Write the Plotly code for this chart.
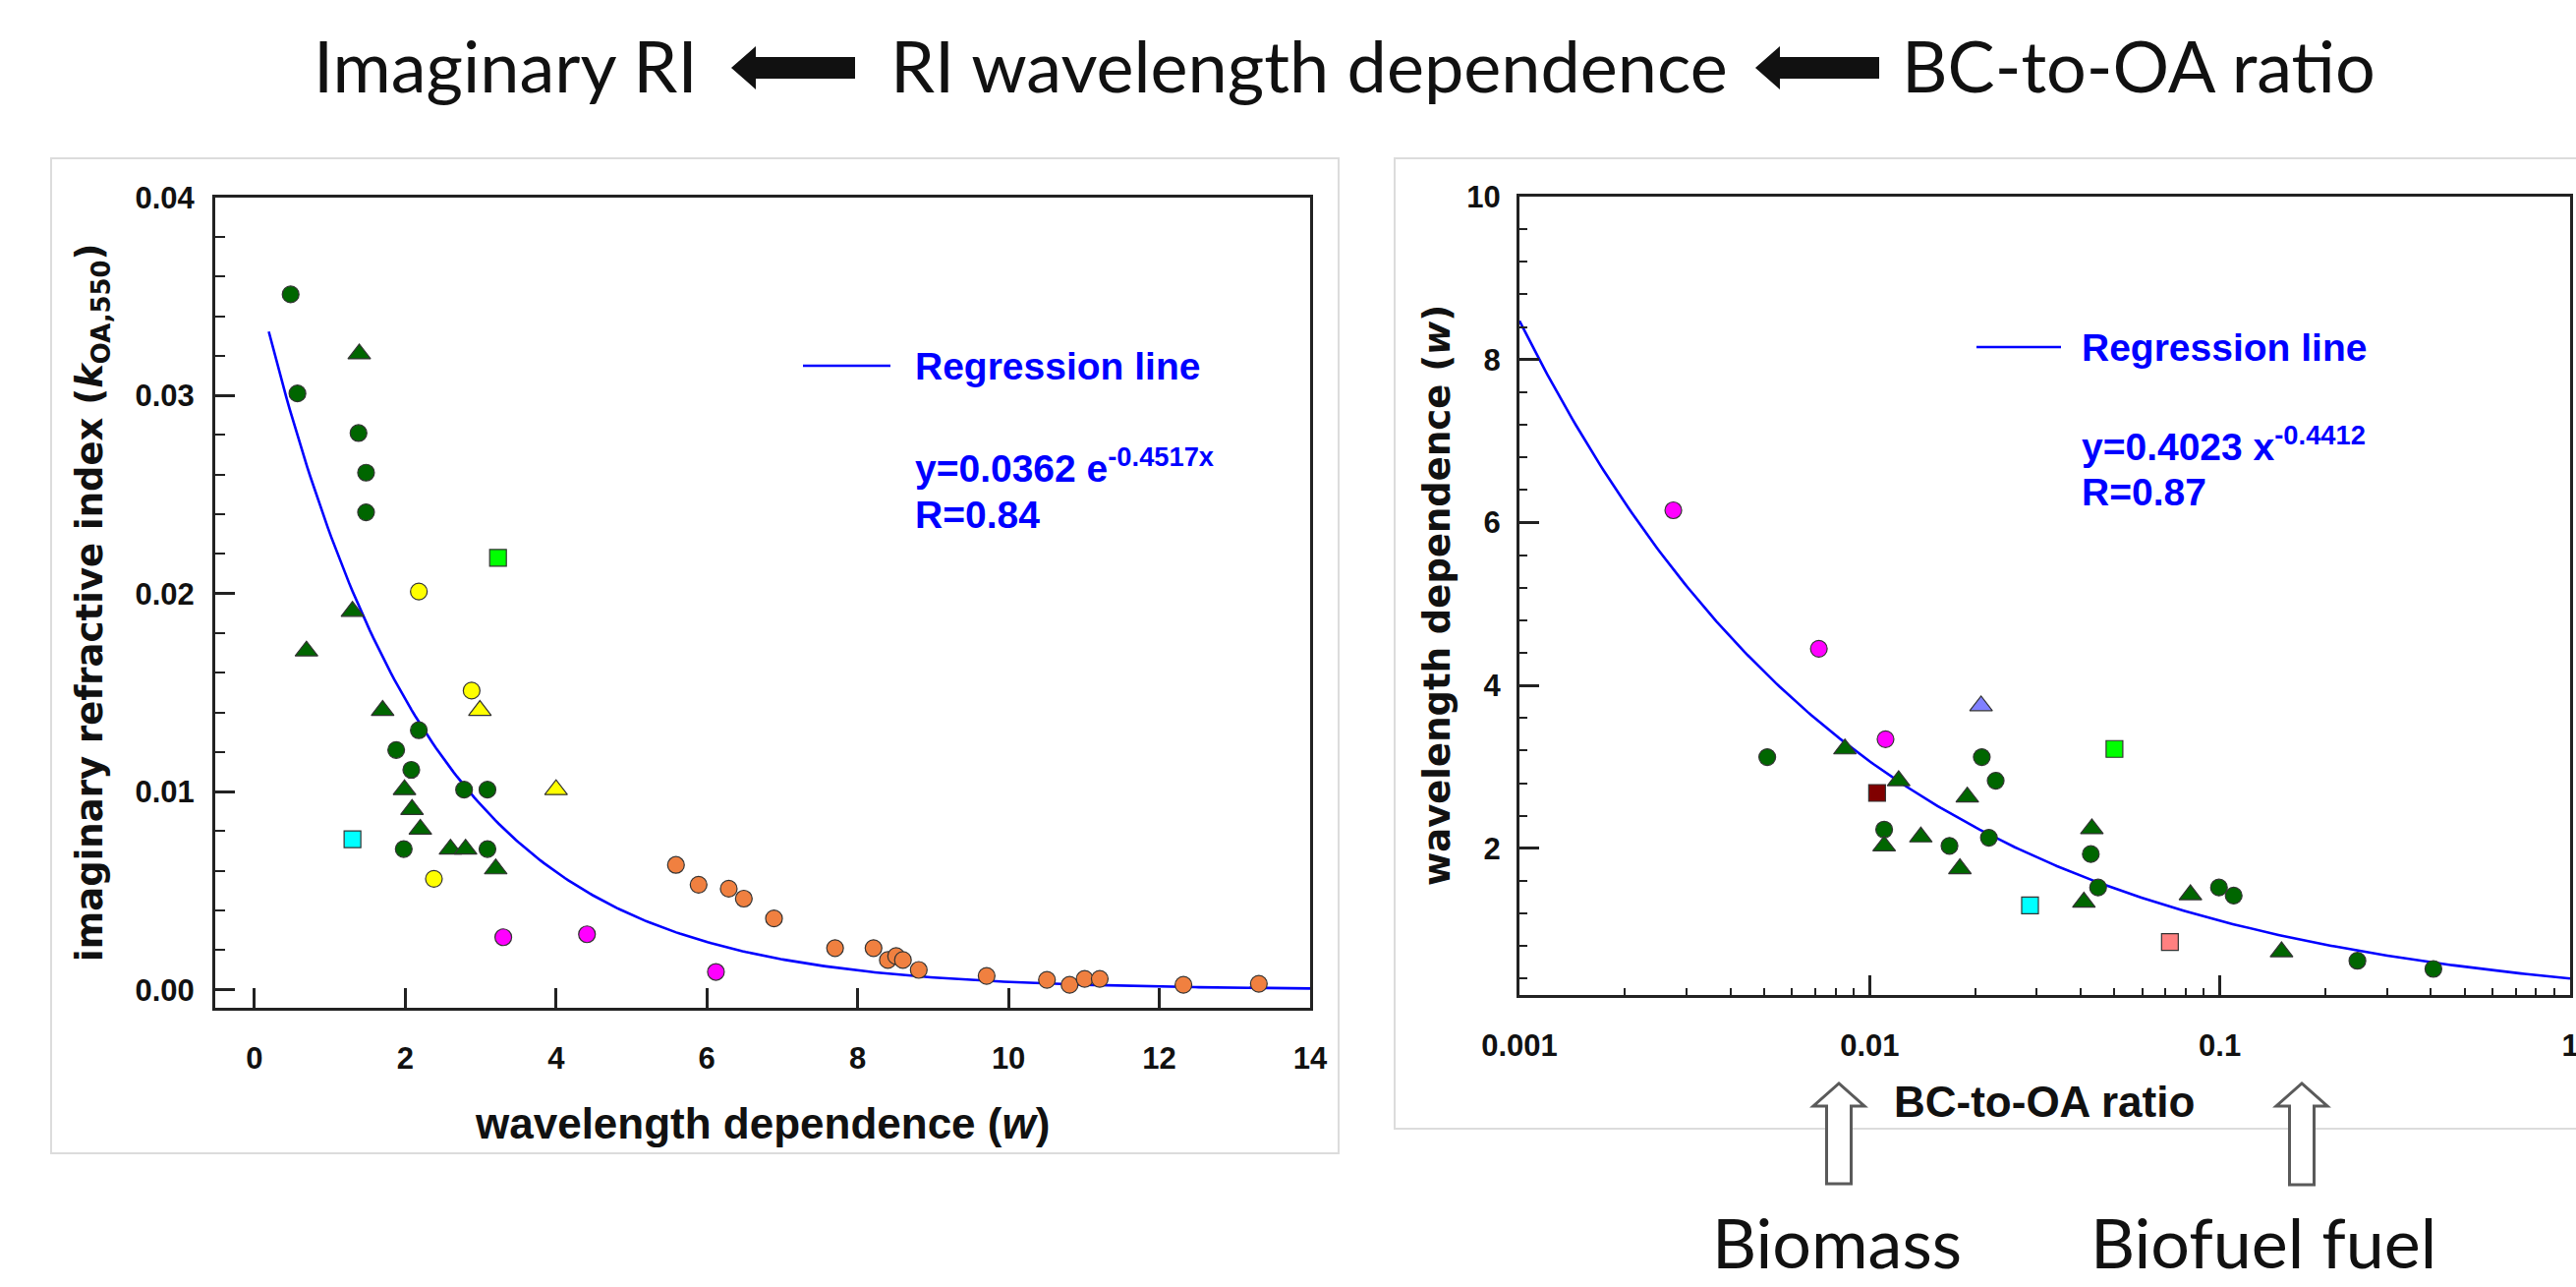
import numpy as np
import plotly.graph_objects as go

W, H = 2621, 1309

# ---- left panel: wavelength dependence (w) vs imaginary RI (k) ----
l_green_circ_w = [0.48, 0.57, 1.38, 1.48, 1.48, 2.18, 1.88, 2.08, 2.78, 3.09, 1.98, 3.09]
l_green_circ_k = [0.0351, 0.0301, 0.0281, 0.0261, 0.0241, 0.0131, 0.0121, 0.0111, 0.0101, 0.0101, 0.0071, 0.0071]
l_green_tri_w = [1.39, 1.30, 0.69, 1.70, 1.99, 2.09, 2.20, 2.60, 2.80, 3.20]
l_green_tri_k = [0.0321, 0.0191, 0.0171, 0.0141, 0.0101, 0.0091, 0.0081, 0.0071, 0.0071, 0.0061]
l_yellow_circ_w = [2.18, 2.88, 2.38]
l_yellow_circ_k = [0.0201, 0.0151, 0.0056]
l_yellow_tri_w = [2.99, 4.00]
l_yellow_tri_k = [0.0141, 0.0101]
l_lime_sq_w = [3.23]
l_lime_sq_k = [0.0218]
l_cyan_sq_w = [1.30]
l_cyan_sq_k = [0.0076]
l_magenta_w = [3.30, 4.41, 6.12]
l_magenta_k = [0.00265, 0.0028, 0.0009]
l_orange_w = [5.59, 5.89, 6.29, 6.49, 6.89, 7.70, 8.21, 8.40, 8.51, 8.60, 8.81,
              9.71, 10.51, 10.81, 11.01, 11.21, 12.32, 13.32]
l_orange_k = [0.0063, 0.0053, 0.0051, 0.0046, 0.0036, 0.0021, 0.0021, 0.0015, 0.0017, 0.0015, 0.0010,
              0.0007, 0.0005, 0.00025, 0.00055, 0.00055, 0.00025, 0.0003]
# regression: y = 0.0362 exp(-0.4517 x)
l_fit_a, l_fit_b = 0.0362, -0.4517
l_fit_start, l_fit_end = 0.19, 14.0

# ---- right panel: BC-to-OA ratio vs wavelength dependence (w) ----
r_green_circ_x = [0.0051, 0.0209, 0.0229, 0.0110, 0.0169, 0.0219, 0.0428, 0.0449, 0.0994, 0.1095, 0.247, 0.407]
r_green_circ_w = [3.12, 3.12, 2.83, 2.23, 2.03, 2.13, 1.93, 1.52, 1.52, 1.42, 0.62, 0.52]
r_green_tri_x = [0.0085, 0.0121, 0.0190, 0.0110, 0.0140, 0.0181, 0.0431, 0.0409, 0.0824, 0.150]
r_green_tri_w = [3.22, 2.83, 2.63, 2.03, 2.14, 1.75, 2.24, 1.34, 1.43, 0.73]
r_magenta_x = [0.00275, 0.00716, 0.0111]
r_magenta_w = [6.15, 4.45, 3.34]
r_slate_tri_x = [0.0208]
r_slate_tri_w = [3.75]
r_lime_sq_x = [0.050]
r_lime_sq_w = [3.22]
r_maroon_sq_x = [0.0105]
r_maroon_sq_w = [2.68]
r_cyan_sq_x = [0.0287]
r_cyan_sq_w = [1.30]
r_salmon_sq_x = [0.072]
r_salmon_sq_w = [0.85]
# regression: y = 0.4023 x^-0.4412
r_fit_a, r_fit_b = 0.4023, -0.4412
r_fit_start, r_fit_end = 0.001, 1.0


def px(x):
    return x / W


def py(y):
    return 1 - y / H


def pts(x, y, color, symbol, size, xa, ya):
    return go.Scatter(x=x, y=y, mode="markers", xaxis=xa, yaxis=ya, showlegend=False,
                      marker=dict(color=color, symbol=symbol, size=size,
                                  line=dict(color="#333333", width=1.2)))


fig = go.Figure()

# regression curves
lx = np.linspace(l_fit_start, l_fit_end, 300)
fig.add_trace(go.Scatter(x=lx, y=l_fit_a * np.exp(l_fit_b * lx), mode="lines", xaxis="x", yaxis="y",
                         line=dict(color="#0000FF", width=2.6), showlegend=False))
rx = np.logspace(np.log10(r_fit_start), np.log10(r_fit_end), 300)
fig.add_trace(go.Scatter(x=rx, y=r_fit_a * rx ** r_fit_b, mode="lines", xaxis="x2", yaxis="y2",
                         line=dict(color="#0000FF", width=2.6), showlegend=False))

GREEN = "#006600"
CIRC, TRI, SQ = 17, 20, 17

fig.add_trace(pts(l_orange_w, l_orange_k, "#F08040", "circle", CIRC, "x", "y"))
fig.add_trace(pts(l_green_circ_w, l_green_circ_k, GREEN, "circle", CIRC, "x", "y"))
fig.add_trace(pts(l_green_tri_w, l_green_tri_k, GREEN, "triangle-up", TRI, "x", "y"))
fig.add_trace(pts(l_yellow_circ_w, l_yellow_circ_k, "#FFFF00", "circle", CIRC, "x", "y"))
fig.add_trace(pts(l_yellow_tri_w, l_yellow_tri_k, "#FFFF00", "triangle-up", TRI, "x", "y"))
fig.add_trace(pts(l_lime_sq_w, l_lime_sq_k, "#00FF00", "square", SQ, "x", "y"))
fig.add_trace(pts(l_cyan_sq_w, l_cyan_sq_k, "#00FFFF", "square", SQ, "x", "y"))
fig.add_trace(pts(l_magenta_w, l_magenta_k, "#FF00FF", "circle", CIRC, "x", "y"))

fig.add_trace(pts(r_green_circ_x, r_green_circ_w, GREEN, "circle", CIRC, "x2", "y2"))
fig.add_trace(pts(r_green_tri_x, r_green_tri_w, GREEN, "triangle-up", TRI, "x2", "y2"))
fig.add_trace(pts(r_magenta_x, r_magenta_w, "#FF00FF", "circle", CIRC, "x2", "y2"))
fig.add_trace(pts(r_slate_tri_x, r_slate_tri_w, "#8080FF", "triangle-up", TRI, "x2", "y2"))
fig.add_trace(pts(r_lime_sq_x, r_lime_sq_w, "#00FF00", "square", SQ, "x2", "y2"))
fig.add_trace(pts(r_maroon_sq_x, r_maroon_sq_w, "#800000", "square", SQ, "x2", "y2"))
fig.add_trace(pts(r_cyan_sq_x, r_cyan_sq_w, "#00FFFF", "square", SQ, "x2", "y2"))
fig.add_trace(pts(r_salmon_sq_x, r_salmon_sq_w, "#FF8080", "square", SQ, "x2", "y2"))

tickfont = dict(family="Liberation Sans, Arial, sans-serif", size=31, color="#111111", weight="bold")
axis_style = dict(showline=True, linecolor="#222222", linewidth=3, mirror=True,
                  ticks="inside", tickcolor="#222222", tickwidth=2.5, ticklen=20,
                  showgrid=False, zeroline=False, tickfont=tickfont, automargin=False,
                  ticklabeloverflow="allow")

fig.update_layout(
    width=W, height=H, autosize=False,
    margin=dict(l=0, r=0, t=0, b=0),
    paper_bgcolor="white", plot_bgcolor="white",
    xaxis=dict(domain=[px(219), px(1333)], range=[-0.52, 14.0], anchor="y",
               tickvals=[0, 2, 4, 6, 8, 10, 12, 14], ticklabelstandoff=22, **axis_style),
    yaxis=dict(domain=[py(1025), py(200.7)], range=[-0.00091, 0.04], anchor="x",
               tickvals=[0, 0.01, 0.02, 0.03, 0.04], tickformat=".2f", ticklabelstandoff=12,
               minor=dict(ticks="inside", ticklen=10, tickwidth=2, tickcolor="#222222",
                          tick0=0, dtick=0.002, showgrid=False),
               **axis_style),
    xaxis2=dict(domain=[px(1546), px(2615)], type="log", range=[-3, 0], anchor="y2",
                tickvals=[0.001, 0.01, 0.1, 1], ticktext=["0.001", "0.01", "0.1", "1"],
                ticklabelstandoff=22,
                minor=dict(ticks="inside", ticklen=7, tickwidth=2, tickcolor="#222222",
                           tickvals=[m * 10.0 ** e for e in (-3, -2, -1) for m in range(2, 10)],
                           showgrid=False),
                **axis_style),
    yaxis2=dict(domain=[py(1012), py(200)], range=[0.2, 10], anchor="x2",
                tickvals=[2, 4, 6, 8, 10], ticklabelstandoff=10,
                minor=dict(ticks="inside", ticklen=8, tickwidth=2, tickcolor="#222222",
                           tick0=0, dtick=0.4, showgrid=False),
                **axis_style),
)

title_font = dict(family="Lato, Open Sans, sans-serif", size=72, color="#111111")
bottom_font = dict(family="Lato, Open Sans, sans-serif", size=70, color="#111111")
arial_b = dict(family="Liberation Sans, Arial, sans-serif", color="#111111", weight="bold")
dejavu_b = dict(family="DejaVu Sans, sans-serif", color="#111111", weight="bold")
blue_b = dict(family="Liberation Sans, Arial, sans-serif", size=39, color="#0000FF", weight="bold")

ann = []


def text(s, x, y, font, xanchor="center", angle=0):
    ann.append(dict(text=s, x=px(x), y=py(y), xref="paper", yref="paper", showarrow=False,
                    xanchor=xanchor, yanchor="middle", font=font, textangle=angle))


# header
text("Imaginary RI", 514, 66, title_font)
text("RI wavelength dependence", 1332, 66, title_font)
text("BC-to-OA ratio", 2176, 66, title_font)
# bottom labels
text("Biomass", 1869, 1263, bottom_font)
text("Biofuel fuel", 2303, 1263, bottom_font)

# axis titles
text("wavelength dependence (<i>w</i>)", 776, 1142, dict(arial_b, size=44))
text("imaginary refractive index (<i>k</i><sub>OA,550</sub>)", 94, 613, dict(dejavu_b, size=37), angle=-90)
text("BC-to-OA ratio", 2080, 1120, dict(arial_b, size=44))
text("wavelength dependence (<i>w</i>)", 1462, 606, dict(dejavu_b, size=37), angle=-90)

# legends / equations
text("Regression line", 929, 372, blue_b, xanchor="left")
text("y=0.0362 e<sup>-0.4517x</sup>", 929, 474, blue_b, xanchor="left")
text("R=0.84", 929, 524, blue_b, xanchor="left")
text("Regression line", 2116, 353, blue_b, xanchor="left")
text("y=0.4023 x<sup>-0.4412</sup>", 2116, 451, blue_b, xanchor="left")
text("R=0.87", 2116, 500, blue_b, xanchor="left")

shapes = []


def path(points, fill, line_color, width):
    d = "M " + " L ".join(f"{px(x):.5f},{py(y):.5f}" for x, y in points) + " Z"
    shapes.append(dict(type="path", path=d, xref="paper", yref="paper",
                       fillcolor=fill, line=dict(color=line_color, width=width)))


# panel frames
shapes.append(dict(type="rect", x0=px(52), x1=px(1362), y0=py(1173), y1=py(161), xref="paper", yref="paper",
                   line=dict(color="#dcdcdc", width=2), layer="below"))
shapes.append(dict(type="rect", x0=px(1419), x1=px(2640), y0=py(1148), y1=py(161), xref="paper", yref="paper",
                   line=dict(color="#dcdcdc", width=2), layer="below"))


def left_arrow(tip, cy, length=126, head=25, hh=22, sh=11):
    path([(tip, cy), (tip + head, cy - hh), (tip + head, cy - sh), (tip + length, cy - sh),
          (tip + length, cy + sh), (tip + head, cy + sh), (tip + head, cy + hh)],
         "#111111", "#111111", 0)


left_arrow(744, 69)
left_arrow(1786, 69)


def up_arrow(cx, tip, bottom, head=23, hw=26, sw=12.5):
    path([(cx, tip), (cx + hw, tip + head), (cx + sw, tip + head), (cx + sw, bottom),
          (cx - sw, bottom), (cx - sw, tip + head), (cx - hw, tip + head)],
         "white", "#5a5a5a", 3)


up_arrow(1871, 1102, 1204)
up_arrow(2342, 1102, 1205)

# legend sample lines
shapes.append(dict(type="line", x0=px(817), x1=px(906), y0=py(372), y1=py(372), xref="paper", yref="paper",
                   line=dict(color="#0000FF", width=2.5)))
shapes.append(dict(type="line", x0=px(2011), x1=px(2097), y0=py(353), y1=py(353), xref="paper", yref="paper",
                   line=dict(color="#0000FF", width=2.5)))

fig.update_layout(annotations=ann, shapes=shapes)

fig.write_html("out.html", config={"displayModeBar": False},
               post_script="document.body.style.margin='0';")
